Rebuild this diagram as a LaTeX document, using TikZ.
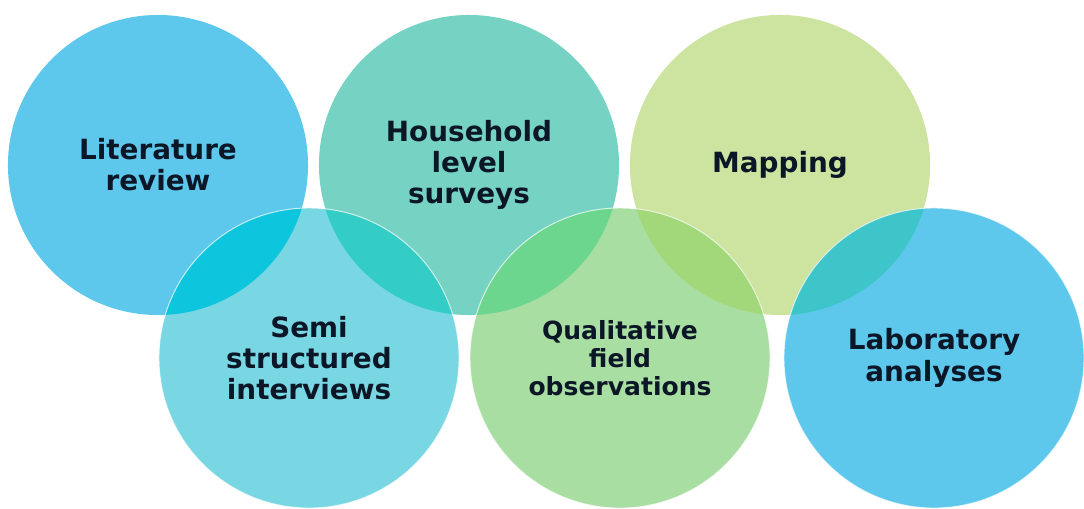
\documentclass[tikz,border=0pt]{standalone}
\usepackage{fontspec}
\setmainfont{DejaVu Sans}
\usepackage{tikz}
\usetikzlibrary{positioning}

\definecolor{litblue}{HTML}{5EC8EC}
\definecolor{housteal}{HTML}{76D3C4}
\definecolor{mapgreen}{HTML}{CDE3A0}
\definecolor{semicyan}{HTML}{78D7E3}
\definecolor{qualgreen}{HTML}{A9DEA2}
\definecolor{labblue}{HTML}{5DC8EC}
\definecolor{inkblue}{HTML}{0B1626}
% overlap tints
\definecolor{litsemi}{HTML}{0DC5DC}
\definecolor{housesemi}{HTML}{34CDC6}
\definecolor{housequal}{HTML}{6CD68F}
\definecolor{mapqual}{HTML}{A2D87A}
\definecolor{maplab}{HTML}{3EC5C9}

\begin{document}
\begin{tikzpicture}
             %% setup
             [
                 x=0.025cm, y=-0.025cm,
                 bubble/.style={circle, minimum size=7.5cm, inner sep=0pt, align=center,
                                text=inkblue, font=\bfseries\fontsize{19.8}{22.2}\selectfont},
                 rim/.style={draw=white, line width=0.7pt, opacity=0.7},
             ]
                 \useasboundingbox (0,0) rectangle (1084,508);

                 %% Circles
                 \node [bubble, fill=litblue] (litreview) at (158,165) {Literature\\review};
                 \node [bubble, fill=housteal] (household) at (469,165) {Household\\level\\surveys};
                 \node [bubble, fill=mapgreen] (mapping) at (780,165) {Mapping};
                 \node [bubble, fill=semicyan] (semistruct) at (309,358) {Semi\\structured\\interviews};
                 \node [bubble, fill=qualgreen, font=\bfseries\fontsize{17.8}{20}\selectfont] (qualfield) at (620,358) {Qualitative\\field\\observations};
                 \node [bubble, fill=labblue] (labwork) at (934,358) {Laboratory\\analyses};

                 %% Overlaps
                 \begin{scope}
                     \clip (litreview.center) circle [radius=3.75cm];
                     \fill [litsemi] (semistruct.center) circle [radius=3.75cm];
                 \end{scope}
                 \begin{scope}
                     \clip (household.center) circle [radius=3.75cm];
                     \fill [housesemi] (semistruct.center) circle [radius=3.75cm];
                     \fill [housequal] (qualfield.center) circle [radius=3.75cm];
                 \end{scope}
                 \begin{scope}
                     \clip (mapping.center) circle [radius=3.75cm];
                     \fill [mapqual] (qualfield.center) circle [radius=3.75cm];
                     \fill [maplab] (labwork.center) circle [radius=3.75cm];
                 \end{scope}

                 %% Rims of the lower row
                 \draw [rim] (semistruct.center) circle [radius=3.75cm];
                 \draw [rim] (qualfield.center) circle [radius=3.75cm];
                 \draw [rim] (labwork.center) circle [radius=3.75cm];

\end{tikzpicture}
\end{document}
